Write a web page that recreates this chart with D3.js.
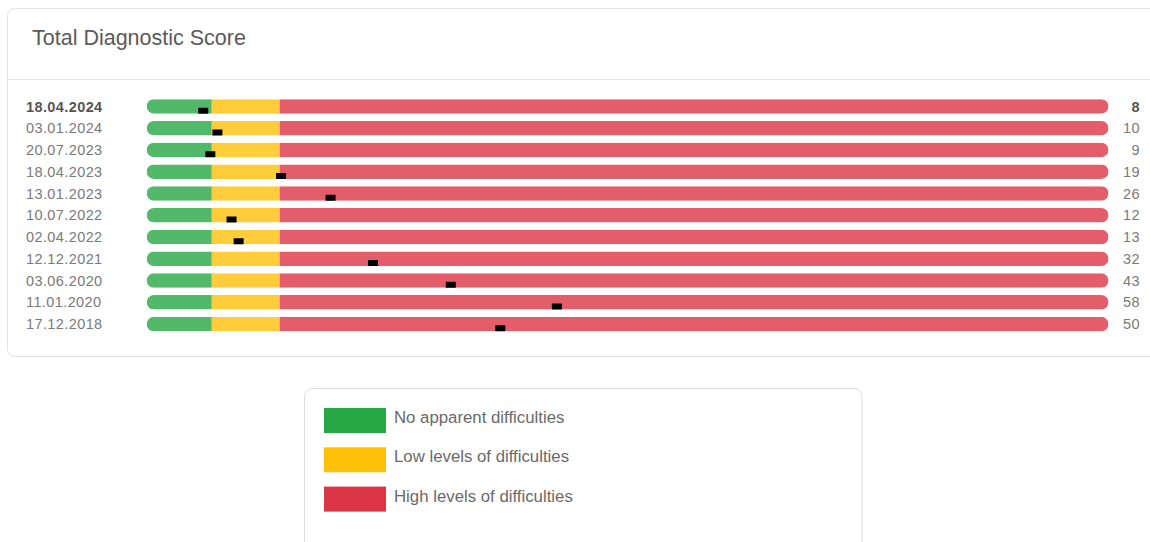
<!DOCTYPE html>
<html>
<head>
<meta charset="utf-8">
<script src="https://cdn.jsdelivr.net/npm/d3@7"></script>
<style>
  body { margin: 0; background: #fff; font-family: "Liberation Sans", Arial, sans-serif; }
</style>
</head>
<body>
<div id="chart"></div>
<script>
// DATA
const dates = ["18.04.2024", "03.01.2024", "20.07.2023", "18.04.2023", "13.01.2023", "10.07.2022",
    "02.04.2022", "12.12.2021", "03.06.2020", "11.01.2020", "17.12.2018"];
const scores = [8, 10, 9, 19, 26, 12, 13, 32, 43, 58, 50];
// band limits
const bandNames = ["No apparent difficulties", "Low levels of difficulties", "High levels of difficulties"];
const bandStart = [0, 9.2, 18.8];
const bandEnd = [9.2, 18.8, 136];
const bandColors = ["#28a745", "#ffc107", "#dc3545"];

const W = 1150, H = 542;
const svg = d3.select("#chart").append("svg")
    .attr("width", W)
    .attr("height", H);

// CARD
svg.append("rect")
    .attr("x", 7.5).attr("y", 8.5)
    .attr("width", W + 20).attr("height", 348)
    .attr("rx", 7).attr("ry", 7)
    .attr("fill", "#fff")
    .attr("stroke", "#e2e2e2");

svg.append("line")
    .attr("x1", 8).attr("x2", W)
    .attr("y1", 79.5).attr("y2", 79.5)
    .attr("stroke", "#e6e6e6");

svg.append("text")
    .attr("x", 32).attr("y", 45)
    .attr("font-size", "21.5px")
    .attr("fill", "#5a5a5a")
    .text("Total Diagnostic Score");

// SCALES
const x = d3.scaleLinear()
    .domain([0, d3.max(bandEnd)])
    .range([146.7, 1108.5]);

const y = d3.scaleBand()
    .domain(dates)
    .range([95.6, 334.9])
    .paddingInner(0.333)
    .paddingOuter(0.1667);

const barH = y.bandwidth();

const rows = svg.selectAll("g.row")
    .data(dates)
    .enter()
    .append("g")
    .attr("class", "row")
    .attr("transform", d => `translate(0,${y(d)})`);

// clip for rounded ends
rows.append("clipPath")
    .attr("id", (d, i) => "clip" + i)
    .append("rect")
    .attr("x", x(0))
    .attr("y", 0)
    .attr("width", x(d3.max(bandEnd)) - x(0))
    .attr("height", barH)
    .attr("rx", barH / 2).attr("ry", barH / 2);

const bars = rows.append("g")
    .attr("clip-path", (d, i) => `url(#clip${i})`);

bandNames.forEach((name, k) => {
    bars.append("rect")
        .attr("x", x(bandStart[k]))
        .attr("y", 0)
        .attr("width", x(bandEnd[k]) - x(bandStart[k]))
        .attr("height", barH)
        .attr("fill", bandColors[k])
        .attr("fill-opacity", 0.8);
});

// score markers
rows.append("rect")
    .attr("x", (d, i) => x(scores[i]) - 5)
    .attr("y", barH - 6)
    .attr("width", 10)
    .attr("height", 6)
    .attr("fill", "#000");

// labels
rows.append("text")
    .attr("x", 26)
    .attr("y", barH / 2)
    .attr("dy", "0.35em")
    .attr("font-size", "14.5px")
    .attr("letter-spacing", "0.4px")
    .attr("font-weight", (d, i) => i === 0 ? "bold" : "normal")
    .attr("fill", (d, i) => i === 0 ? "#555" : "#7a7a7a")
    .text(d => d);

rows.append("text")
    .attr("x", 1140)
    .attr("y", barH / 2)
    .attr("dy", "0.35em")
    .attr("text-anchor", "end")
    .attr("font-size", "14.5px")
    .attr("letter-spacing", "0.4px")
    .attr("font-weight", (d, i) => i === 0 ? "bold" : "normal")
    .attr("fill", (d, i) => i === 0 ? "#555" : "#7a7a7a")
    .text((d, i) => scores[i]);

// LEGEND
svg.append("rect")
    .attr("x", 304.5).attr("y", 388.5)
    .attr("width", 557.5).attr("height", 200)
    .attr("rx", 8).attr("ry", 8)
    .attr("fill", "#fff")
    .attr("stroke", "#dcdcdc");

const legend = svg.selectAll("g.legend")
    .data(bandNames)
    .enter()
    .append("g")
    .attr("class", "legend")
    .attr("transform", (d, i) => `translate(324,${408 + i * 39.3})`);

legend.append("rect")
    .attr("width", 62)
    .attr("height", 25)
    .attr("fill", (d, i) => bandColors[i]);

legend.append("text")
    .attr("x", 70)
    .attr("y", 15)
    .attr("font-size", "16.8px")
    .attr("fill", "#6a6a6a")
    .text(d => d);
</script>
</body>
</html>
